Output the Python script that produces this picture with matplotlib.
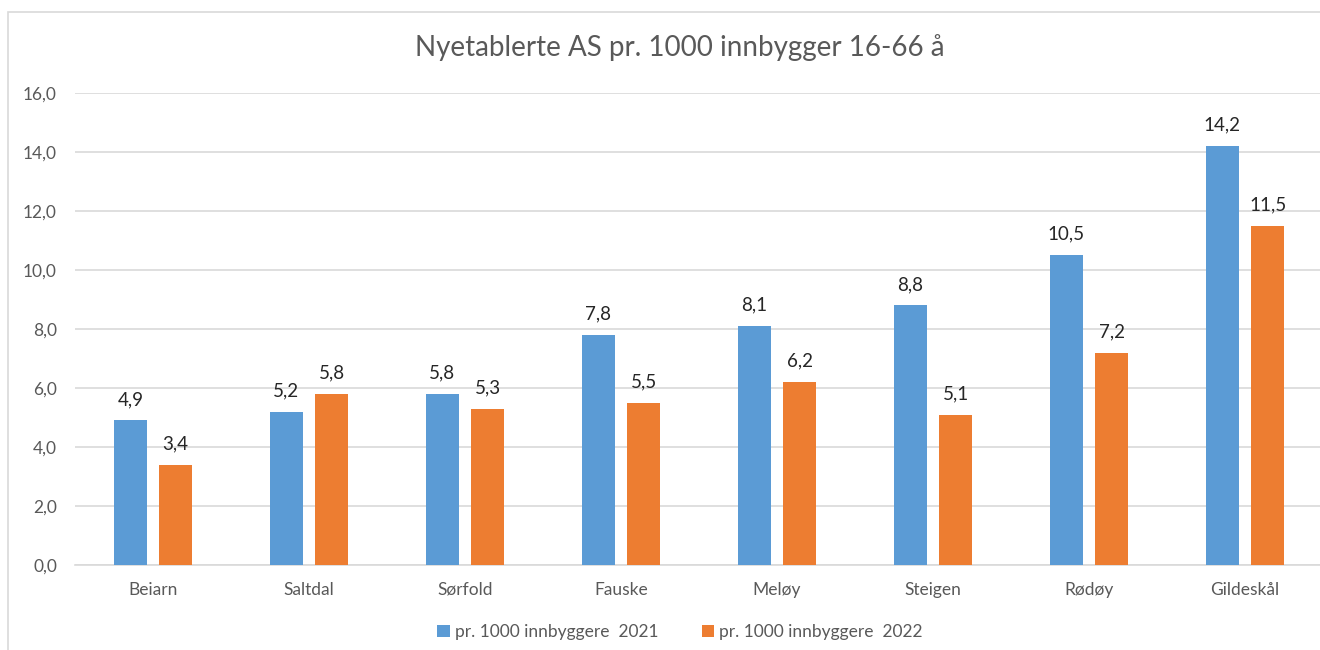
import matplotlib.pyplot as plt
import numpy as np
from matplotlib.patches import Rectangle

kommuner = ['Beiarn', 'Saltdal', 'Sørfold', 'Fauske', 'Meløy', 'Steigen', 'Rødøy', 'Gildeskål']
verdi_2021 = [4.9, 5.2, 5.8, 7.8, 8.1, 8.8, 10.5, 14.2]
verdi_2022 = [3.4, 5.8, 5.3, 5.5, 6.2, 5.1, 7.2, 11.5]
serie_navn = ['pr. 1000 innbyggere  2021', 'pr. 1000 innbyggere  2022']
y_ticks = np.arange(0, 17, 2)

BLA = '#5b9bd5'
ORANSJE = '#ed7d31'
GRA_TEKST = '#595959'
GRID = '#d9d9d9'

plt.rcParams['font.family'] = ['Lato', 'DejaVu Sans']

fig = plt.figure(figsize=(13.2, 6.5), dpi=100)
ax = fig.add_axes([75 / 1320, 1 - 565 / 650, (1323 - 75) / 1320, (565 - 93) / 650])

# ramme rundt diagrammet (som i Excel)
fig.patches.append(Rectangle((8 / 1320, -0.1), 1.2, 1 - 12 / 650 + 0.1, transform=fig.transFigure,
                             fill=False, edgecolor=GRID, linewidth=1.2))

x = np.arange(len(kommuner))
w = 0.215
off = 0.145
b1 = ax.bar(x - off, verdi_2021, w, color=BLA, label=serie_navn[0], zorder=3)
b2 = ax.bar(x + off, verdi_2022, w, color=ORANSJE, label=serie_navn[1], zorder=3)

for bars, vals in ((b1, verdi_2021), (b2, verdi_2022)):
    for r, v in zip(bars, vals):
        ax.annotate(f'{v:.1f}'.replace('.', ','), (r.get_x() + r.get_width() / 2, v),
                    xytext=(0, 9), textcoords='offset points', ha='center', va='bottom',
                    fontsize=13.5, color='#262626')

ax.set_xlim(-0.5, len(kommuner) - 0.5)
ax.set_ylim(0, 16)
ax.set_yticks(y_ticks)
ax.set_yticklabels([f'{t:.1f}'.replace('.', ',') for t in y_ticks])
ax.set_xticks(x)
ax.set_xticklabels(kommuner)
ax.tick_params(axis='both', length=0, labelsize=12.5, labelcolor=GRA_TEKST)
ax.tick_params(axis='x', pad=12)
ax.tick_params(axis='y', pad=13)
ax.grid(axis='y', color=GRID, linewidth=1.2, zorder=0)
for s in ['top', 'right', 'left']:
    ax.spines[s].set_visible(False)
ax.spines['bottom'].set_color(GRID)
ax.spines['bottom'].set_linewidth(1.2)

fig.text(680 / 1320, 1 - 48 / 650, 'Nyetablerte AS pr. 1000 innbygger 16-66 å', ha='center', va='center',
         fontsize=20, color=GRA_TEKST)

fig.legend(loc='center', bbox_to_anchor=(680 / 1320, 1 - 632 / 650), ncol=2, frameon=False,
           fontsize=12.5, labelcolor=GRA_TEKST, handlelength=0.7, handleheight=0.7,
           handletextpad=0.3, columnspacing=2.5)

fig.savefig('out.png', dpi=100)
